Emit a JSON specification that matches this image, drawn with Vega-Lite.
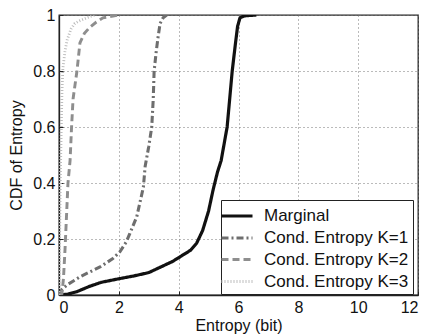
{
  "$schema": "https://vega.github.io/schema/vega-lite/v6.json",
  "width": 359,
  "height": 280,
  "autosize": "none",
  "padding": {"left": 59, "top": 15, "right": 10, "bottom": 39},
  "background": "white",
  "config": {
    "font": "Liberation Sans",
    "view": {"stroke": "#222", "strokeWidth": 1.3},
    "axis": {
      "domainColor": "#222", "domainWidth": 1.3,
      "tickColor": "#222", "tickSize": -4, "tickWidth": 1,
      "labelFontSize": 16, "labelColor": "#111", "labelPadding": 8,
      "titleFontSize": 16, "titleColor": "#111", "titleFontWeight": "normal",
      "gridColor": "#777", "gridDash": [1, 3], "gridWidth": 1, "gridOpacity": 1
    }
  },
  "data": {"values": [
    {"s": "Marginal", "x": 0, "y": 0},
    {"s": "Marginal", "x": 0.3, "y": 0.003},
    {"s": "Marginal", "x": 0.6, "y": 0.012},
    {"s": "Marginal", "x": 1.0, "y": 0.03},
    {"s": "Marginal", "x": 1.4, "y": 0.045},
    {"s": "Marginal", "x": 2.0, "y": 0.058},
    {"s": "Marginal", "x": 2.5, "y": 0.068},
    {"s": "Marginal", "x": 3.0, "y": 0.08},
    {"s": "Marginal", "x": 3.4, "y": 0.1},
    {"s": "Marginal", "x": 3.8, "y": 0.12},
    {"s": "Marginal", "x": 4.1, "y": 0.14},
    {"s": "Marginal", "x": 4.4, "y": 0.16},
    {"s": "Marginal", "x": 4.6, "y": 0.185},
    {"s": "Marginal", "x": 4.8, "y": 0.23},
    {"s": "Marginal", "x": 5.0, "y": 0.3},
    {"s": "Marginal", "x": 5.15, "y": 0.375},
    {"s": "Marginal", "x": 5.3, "y": 0.44},
    {"s": "Marginal", "x": 5.42, "y": 0.48},
    {"s": "Marginal", "x": 5.62, "y": 0.6},
    {"s": "Marginal", "x": 5.79, "y": 0.8},
    {"s": "Marginal", "x": 5.9, "y": 0.9},
    {"s": "Marginal", "x": 5.97, "y": 0.96},
    {"s": "Marginal", "x": 6.05, "y": 0.99},
    {"s": "Marginal", "x": 6.2, "y": 0.997},
    {"s": "Marginal", "x": 6.6, "y": 1.0},
    {"s": "Cond. Entropy K=1", "x": 0, "y": 0},
    {"s": "Cond. Entropy K=1", "x": 0.1, "y": 0.02},
    {"s": "Cond. Entropy K=1", "x": 0.27, "y": 0.036},
    {"s": "Cond. Entropy K=1", "x": 0.7, "y": 0.065},
    {"s": "Cond. Entropy K=1", "x": 1.37, "y": 0.1},
    {"s": "Cond. Entropy K=1", "x": 1.8, "y": 0.13},
    {"s": "Cond. Entropy K=1", "x": 2.04, "y": 0.155},
    {"s": "Cond. Entropy K=1", "x": 2.25, "y": 0.19},
    {"s": "Cond. Entropy K=1", "x": 2.37, "y": 0.22},
    {"s": "Cond. Entropy K=1", "x": 2.6, "y": 0.28},
    {"s": "Cond. Entropy K=1", "x": 2.82, "y": 0.385},
    {"s": "Cond. Entropy K=1", "x": 2.88, "y": 0.46},
    {"s": "Cond. Entropy K=1", "x": 3.0, "y": 0.53},
    {"s": "Cond. Entropy K=1", "x": 3.1, "y": 0.6},
    {"s": "Cond. Entropy K=1", "x": 3.15, "y": 0.7},
    {"s": "Cond. Entropy K=1", "x": 3.18, "y": 0.8},
    {"s": "Cond. Entropy K=1", "x": 3.25, "y": 0.87},
    {"s": "Cond. Entropy K=1", "x": 3.31, "y": 0.92},
    {"s": "Cond. Entropy K=1", "x": 3.38, "y": 0.97},
    {"s": "Cond. Entropy K=1", "x": 3.48, "y": 0.99},
    {"s": "Cond. Entropy K=1", "x": 3.6, "y": 1.0},
    {"s": "Cond. Entropy K=2", "x": 0, "y": 0},
    {"s": "Cond. Entropy K=2", "x": 0.1, "y": 0.005},
    {"s": "Cond. Entropy K=2", "x": 0.15, "y": 0.06},
    {"s": "Cond. Entropy K=2", "x": 0.2, "y": 0.16},
    {"s": "Cond. Entropy K=2", "x": 0.25, "y": 0.28},
    {"s": "Cond. Entropy K=2", "x": 0.3, "y": 0.4},
    {"s": "Cond. Entropy K=2", "x": 0.37, "y": 0.48},
    {"s": "Cond. Entropy K=2", "x": 0.42, "y": 0.6},
    {"s": "Cond. Entropy K=2", "x": 0.47, "y": 0.7},
    {"s": "Cond. Entropy K=2", "x": 0.6, "y": 0.8},
    {"s": "Cond. Entropy K=2", "x": 0.7, "y": 0.9},
    {"s": "Cond. Entropy K=2", "x": 0.85, "y": 0.935},
    {"s": "Cond. Entropy K=2", "x": 1.04, "y": 0.957},
    {"s": "Cond. Entropy K=2", "x": 1.25, "y": 0.975},
    {"s": "Cond. Entropy K=2", "x": 1.47, "y": 0.99},
    {"s": "Cond. Entropy K=2", "x": 2.0, "y": 1.0},
    {"s": "Cond. Entropy K=3", "x": 0, "y": 0},
    {"s": "Cond. Entropy K=3", "x": 0.02, "y": 0.2},
    {"s": "Cond. Entropy K=3", "x": 0.05, "y": 0.45},
    {"s": "Cond. Entropy K=3", "x": 0.08, "y": 0.62},
    {"s": "Cond. Entropy K=3", "x": 0.1, "y": 0.73},
    {"s": "Cond. Entropy K=3", "x": 0.13, "y": 0.81},
    {"s": "Cond. Entropy K=3", "x": 0.2, "y": 0.87},
    {"s": "Cond. Entropy K=3", "x": 0.27, "y": 0.91},
    {"s": "Cond. Entropy K=3", "x": 0.4, "y": 0.95},
    {"s": "Cond. Entropy K=3", "x": 0.53, "y": 0.97},
    {"s": "Cond. Entropy K=3", "x": 0.7, "y": 0.98},
    {"s": "Cond. Entropy K=3", "x": 0.93, "y": 0.99},
    {"s": "Cond. Entropy K=3", "x": 1.2, "y": 1.0}
  ]},
  "mark": {"type": "line", "clip": true},
  "encoding": {
    "x": {"field": "x", "type": "quantitative",
      "scale": {"domain": [0, 12], "nice": false},
      "axis": {"values": [0, 2, 4, 6, 8, 10, 12], "title": "Entropy (bit)", "titlePadding": 2, "grid": true}},
    "y": {"field": "y", "type": "quantitative",
      "scale": {"domain": [0, 1], "nice": false},
      "axis": {"values": [0, 0.2, 0.4, 0.6, 0.8, 1], "format": "~g", "title": "CDF of Entropy", "titlePadding": 8, "grid": true}},
    "color": {"field": "s", "type": "nominal",
      "scale": {"domain": ["Marginal", "Cond. Entropy K=1", "Cond. Entropy K=2", "Cond. Entropy K=3"],
                "range": ["#111111", "#6e6e6e", "#8e8e8e", "#bdbdbd"]},
      "legend": {"title": null, "orient": "none", "legendX": 162, "legendY": 185,
        "symbolType": "M-1.55,0H1.55", "symbolSize": 400, "symbolStrokeWidth": 2.5,
        "labelFontSize": 17, "labelColor": "#111", "labelOffset": 15, "rowPadding": 2,
        "strokeColor": "#222", "fillColor": "white", "padding": 4, "labelLimit": 300}},
    "strokeDash": {"field": "s", "type": "nominal",
      "scale": {"domain": ["Marginal", "Cond. Entropy K=1", "Cond. Entropy K=2", "Cond. Entropy K=3"],
                "range": [[1, 0], [7, 3, 2, 3], [7, 4], [1, 2]]}},
    "strokeWidth": {"field": "s", "type": "nominal",
      "scale": {"domain": ["Marginal", "Cond. Entropy K=1", "Cond. Entropy K=2", "Cond. Entropy K=3"],
                "range": [3.2, 2.8, 2.8, 2]}}
  }
}
